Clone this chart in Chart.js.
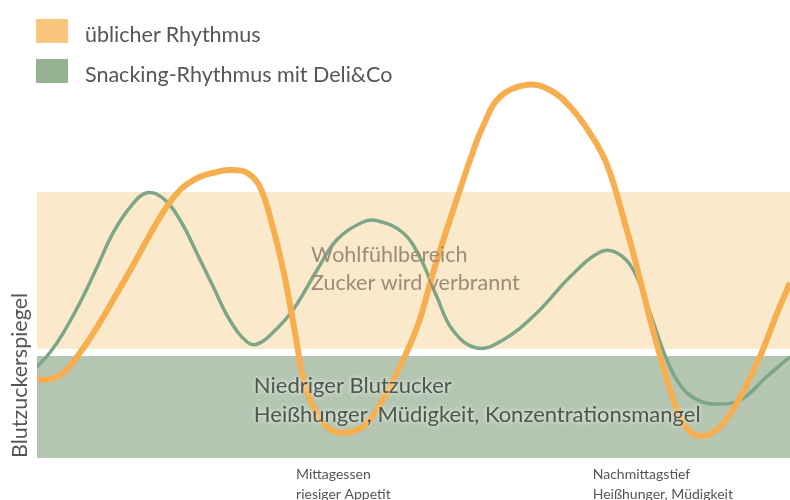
<!DOCTYPE html>
<html>
<head>
<meta charset="utf-8">
<script src="https://cdn.jsdelivr.net/npm/chart.js@4/dist/chart.umd.min.js"></script>
<style>
  body { margin: 0; background: #fff; }
  #wrap { position: relative; width: 790px; height: 500px; }
  #legend { position: absolute; left: 36px; top: 19px; font-family: Lato, sans-serif; font-size: 21.5px; color: #555; }
  .item { display: flex; align-items: center; height: 24px; margin-bottom: 16px; line-height: 24px; }
  .box { width: 32px; height: 24px; margin-right: 17px; }
  .lbl { position: relative; top: 3px; }
</style>
</head>
<body>
<div id="wrap">
  <canvas id="sugarChart" width="790" height="500"></canvas>
  <div id="legend"></div>
</div>
<script>
// series names + legend colours
const seriesNames = ['üblicher Rhythmus', 'Snacking-Rhythmus mit Deli&Co'];
const legendColors = ['#F8C57C', '#95B291'];

// usual rhythm (time 0-100, level 0-100)
const usualTime = [0, 1.3, 3.5, 5.7, 8.0, 10.1, 12.4, 14.6, 16.7, 19.0, 21.3, 23.4, 25.6, 27.9, 29.6, 31.3, 32.7, 33.6, 34.5, 35.3, 36.7, 38.5, 40.2, 42.5, 44.2, 45.9, 47.8, 50.5, 52.6, 54.4, 56.6, 57.5, 59.2, 61.5, 65.1, 68.1, 70.8, 73.4, 75.7, 78.4, 80.1, 81.8, 83.7, 85.8, 88.0, 90.7, 93.4, 96.0, 98.3, 100];
const usualLevel = [20, 19.5, 21.3, 26.3, 32.8, 39.5, 47, 54.5, 61.3, 67, 70, 71.3, 72, 71.3, 67.8, 57.8, 47, 38.3, 28.8, 20.3, 12.8, 7.8, 6.3, 7, 9.5, 14.5, 21.3, 32.8, 46.3, 57, 69.5, 74.5, 82.8, 90.3, 93.3, 92, 87.8, 81.3, 73.3, 56.5, 44.5, 32, 19.5, 8.8, 5.5, 7.8, 15.3, 25.3, 36.3, 43.8];

// snacking rhythm
const snackTime = [0, 1.7, 3.5, 5.7, 8.0, 10.1, 12.4, 14.6, 16.7, 19.0, 21.2, 23.4, 25.6, 27.9, 29.3, 31.3, 34.0, 37.2, 39.8, 43.3, 45.2, 48.6, 50.9, 53.1, 55.2, 58.4, 61.9, 66.4, 70.8, 74.8, 77.0, 79.2, 81.4, 83.7, 85.8, 88.0, 90.3, 93.4, 96.9, 100];
const snackLevel = [22.8, 26.3, 31.3, 38.8, 47.8, 56.3, 62.8, 66.3, 65, 59.5, 51.3, 42.8, 34.5, 29, 28.5, 31.3, 37, 47, 54.5, 59, 59.3, 56.3, 50, 40.3, 32, 27.5, 29.5, 36.3, 45.3, 51.5, 51.3, 47, 36.3, 24.3, 17.3, 14.3, 13.5, 14.5, 20.3, 25.3];

// zones [low, high] in level units
const comfortZone = [27.3, 66.5];
const lowZone = [0, 25.5];
const comfortText = ['Wohlfühlbereich', 'Zucker wird verbrannt'];
const lowText = ['Niedriger Blutzucker', 'Heißhunger, Müdigkeit, Konzentrationsmangel'];

// x tick labels
const tickTimes = [34.4, 73.8];
const tickLabels = [['Mittagessen', 'riesiger Appetit'], ['Nachmittagstief', 'Heißhunger, Müdigkeit']];

const zip = (xs, ys) => xs.map((x, i) => ({ x: x, y: ys[i] }));

const zonesPlugin = {
  id: 'zones',
  beforeDatasetsDraw(chart) {
    const { ctx, chartArea, scales } = chart;
    const y = scales.y;
    ctx.save();
    ctx.fillStyle = '#FAEACB';
    ctx.fillRect(chartArea.left, y.getPixelForValue(comfortZone[1]), chartArea.right - chartArea.left,
      y.getPixelForValue(comfortZone[0]) - y.getPixelForValue(comfortZone[1]));
    ctx.fillStyle = '#B4C6B2';
    ctx.fillRect(chartArea.left, y.getPixelForValue(lowZone[1]), chartArea.right - chartArea.left,
      y.getPixelForValue(lowZone[0]) - y.getPixelForValue(lowZone[1]));
    ctx.restore();
  },
  afterDatasetsDraw(chart) {
    const { ctx, scales } = chart;
    const x = scales.x, y = scales.y;
    ctx.save();
    ctx.font = '21.5px Lato, sans-serif';
    ctx.textBaseline = 'alphabetic';
    ctx.fillStyle = '#9C8B79';
    comfortText.forEach((t, i) => ctx.fillText(t, x.getPixelForValue(36.4), y.getPixelForValue(49) + i * 28));
    ctx.font = '22px Lato, sans-serif';
    ctx.fillStyle = '#4E5650';
    ctx.shadowColor = 'rgba(255,255,255,0.9)';
    ctx.shadowBlur = 5;
    lowText.forEach((t, i) => ctx.fillText(t, x.getPixelForValue(28.8), y.getPixelForValue(16.3) + i * 29));
    ctx.restore();
  }
};

const chart = new Chart(document.getElementById('sugarChart'), {
  type: 'line',
  data: {
    datasets: [{
      label: seriesNames[0],
      data: zip(usualTime, usualLevel),
      borderColor: '#F6AE4E',
      borderWidth: 6,
      pointRadius: 0,
      tension: 0.4,
      clip: { left: 0, right: 0, top: 50, bottom: 10 }
    }, {
      label: seriesNames[1],
      data: zip(snackTime, snackLevel),
      borderColor: '#7DA587',
      borderWidth: 3.5,
      pointRadius: 0,
      tension: 0.4,
      clip: { left: 0, right: 0, top: 50, bottom: 10 }
    }]
  },
  options: {
    responsive: false,
    animation: false,
    layout: { padding: { left: 0, right: 0, top: 58, bottom: 0 } },
    plugins: { legend: { display: false }, tooltip: { enabled: false } },
    scales: {
      x: {
        type: 'linear', min: 0, max: 100,
        grid: { display: false, drawTicks: false }, border: { display: false },
        afterBuildTicks: s => { s.ticks = tickTimes.map(v => ({ value: v })); },
        afterFit: s => { s.height = 42; },
        ticks: {
          autoSkip: false, maxRotation: 0, align: 'start', padding: 6,
          color: '#555', font: { family: 'Lato', size: 14, lineHeight: 1.45 },
          callback: (v, i) => tickLabels[i]
        }
      },
      y: {
        min: 0, max: 100,
        grid: { display: false, drawTicks: false }, border: { display: false },
        ticks: { display: false },
        afterFit: s => { s.width = 37; },
        title: {
          display: true, text: 'Blutzuckerspiegel', align: 'start',
          color: '#555', font: { family: 'Lato', size: 21.5 }, padding: { top: 7, bottom: 4 }
        }
      }
    }
  },
  plugins: [zonesPlugin]
});

// html legend from the datasets
const legend = document.getElementById('legend');
chart.data.datasets.forEach((ds, i) => {
  const item = document.createElement('div');
  item.className = 'item';
  item.innerHTML = '<span class="box" style="background:' + legendColors[i] + '"></span><span class="lbl">' + ds.label.replace('&', '&amp;') + '</span>';
  legend.appendChild(item);
});
</script>
</body>
</html>
